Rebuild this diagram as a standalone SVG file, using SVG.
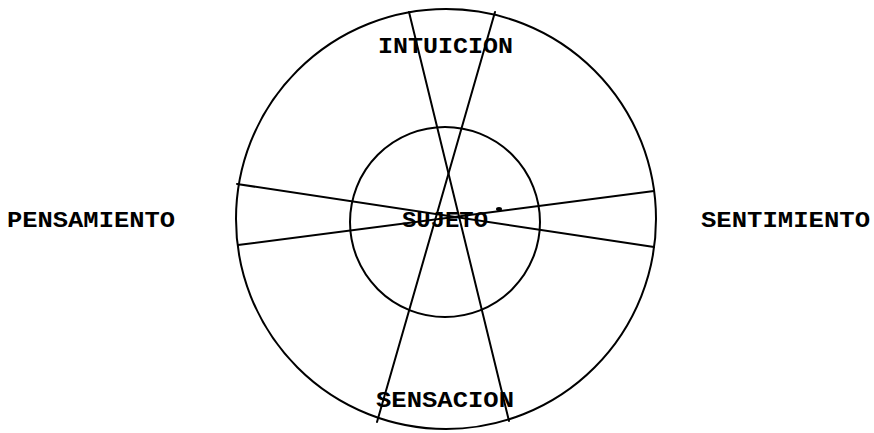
<svg xmlns="http://www.w3.org/2000/svg" width="874" height="433" viewBox="0 0 874 433">
<style>
.ln{fill:none;stroke:#000;stroke-width:2;stroke-linecap:round}
.lb{font-family:"Liberation Mono","Courier New",monospace;font-weight:bold;font-size:22px;fill:#000}
</style>
<rect width="874" height="433" fill="#fff"/>
<g id="outer"><circle class="ln" cx="446" cy="219" r="210"/></g>
<g id="inner"><circle class="ln" cx="445" cy="222" r="95"/></g>
<g id="connectors">
<line class="ln" x1="409" y1="12" x2="509" y2="421"/>
<line class="ln" x1="495" y1="12" x2="377" y2="422"/>
<line class="ln" x1="237" y1="184" x2="654" y2="247"/>
<line class="ln" x1="238" y1="245" x2="654" y2="191"/>
<ellipse cx="499" cy="209" rx="3" ry="2" fill="#000"/>
</g>
<g id="intuicion"><text class="lb" x="378" y="53" textLength="135" lengthAdjust="spacingAndGlyphs">INTUICION</text></g>
<g id="pensamiento"><text class="lb" x="7" y="227" textLength="168" lengthAdjust="spacingAndGlyphs">PENSAMIENTO</text></g>
<g id="sentimiento"><text class="lb" x="701" y="227" textLength="169" lengthAdjust="spacingAndGlyphs">SENTIMIENTO</text></g>
<g id="sensacion"><text class="lb" x="376" y="407" textLength="138" lengthAdjust="spacingAndGlyphs">SENSACION</text></g>
<g id="sujeto"><text class="lb" x="402" y="227" textLength="86" lengthAdjust="spacingAndGlyphs">SUJETO</text></g>
</svg>
